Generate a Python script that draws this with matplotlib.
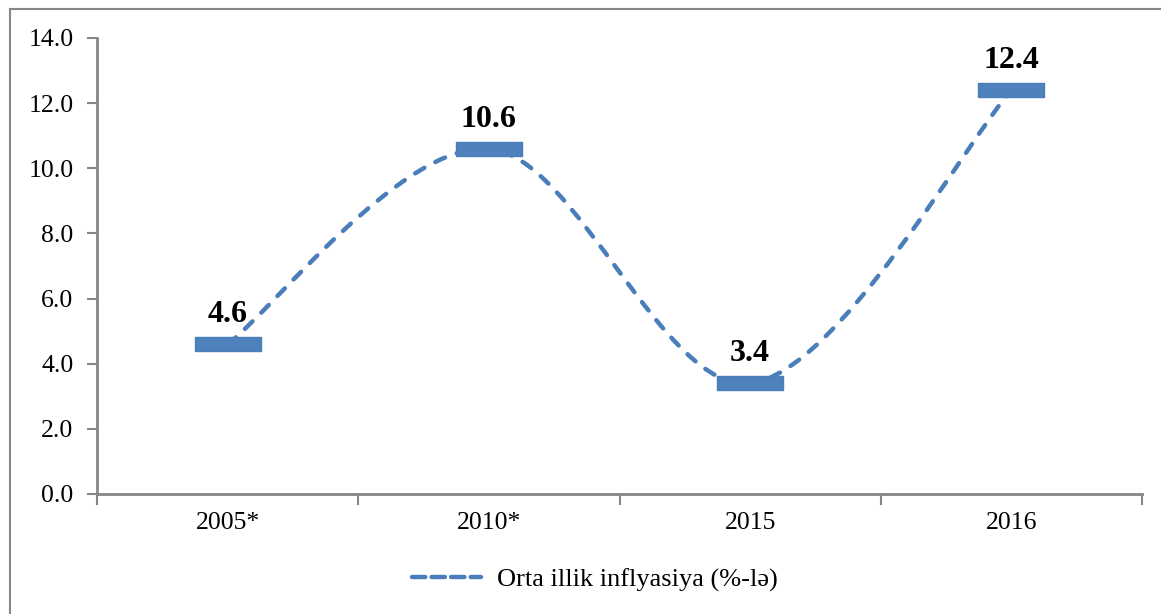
import matplotlib
matplotlib.use("Agg")
import matplotlib.pyplot as plt
from matplotlib.path import Path
from matplotlib.patches import PathPatch, Rectangle
from matplotlib.lines import Line2D

# chart data
years = ["2005*", "2010*", "2015", "2016"]
inflation = [4.6, 10.6, 3.4, 12.4]
series_name = "Orta illik inflyasiya (%-lə)"

plt.rcParams['font.family'] = ['Liberation Serif', 'DejaVu Serif']
blue = '#4A7EBB'
grey = '#868686'

fig = plt.figure(figsize=(11.61, 6.14), dpi=100)
ax = fig.add_axes([97 / 1161, 120 / 614, 1045 / 1161, 456 / 614])

# smoothed line (Catmull-Rom style bezier, like Excel's smoothing)
xs = list(range(len(inflation)))
pts = list(zip(xs, inflation))
verts = [pts[0]]
codes = [Path.MOVETO]
for i in range(len(pts) - 1):
    p0 = pts[max(i - 1, 0)]
    p1 = pts[i]
    p2 = pts[i + 1]
    p3 = pts[min(i + 2, len(pts) - 1)]
    c1 = (p1[0] + (p2[0] - p0[0]) / 6, p1[1] + (p2[1] - p0[1]) / 6)
    c2 = (p2[0] - (p3[0] - p1[0]) / 6, p2[1] - (p3[1] - p1[1]) / 6)
    verts += [c1, c2, p2]
    codes += [Path.CURVE4] * 3
curve = PathPatch(Path(verts, codes), facecolor='none', edgecolor=blue,
                  linewidth=3.2, linestyle=(0, (2.4, 2.8)), capstyle='round',
                  zorder=2)
ax.add_patch(curve)

# wide flat markers
rect = [(-1, -0.2), (1, -0.2), (1, 0.2), (-1, 0.2), (-1, -0.2)]
ax.plot(xs, inflation, linestyle='none', marker=rect, markersize=47,
        markerfacecolor='#4F81BD', markeredgecolor=blue, markeredgewidth=1,
        zorder=3)

for x, v in zip(xs, inflation):
    ax.annotate(f"{v:.1f}", (x, v), xytext=(0, 16), textcoords='offset points',
                ha='center', va='baseline', fontsize=23, fontweight='bold')

ax.set_xlim(-0.5, len(years) - 0.5)
ax.set_ylim(0, 14)
ax.set_yticks([0, 2, 4, 6, 8, 10, 12, 14])
ax.set_yticklabels([f"{t:.1f}" for t in ax.get_yticks()])

ax.set_xticks([i - 0.5 for i in range(len(years) + 1)])
ax.set_xticklabels([])
ax.set_xticks(xs, minor=True)
ax.set_xticklabels(years, minor=True)
ax.tick_params(axis='x', which='major', direction='out', length=8, width=1.5,
               color=grey)
ax.tick_params(axis='x', which='minor', length=0, pad=13, labelsize=18.5)
ax.tick_params(axis='y', direction='out', length=7, width=1.5, color=grey,
               pad=10, labelsize=18.5)

for s in ['top', 'right']:
    ax.spines[s].set_visible(False)
for s in ['left', 'bottom']:
    ax.spines[s].set_color(grey)
    ax.spines[s].set_linewidth(2)

# outer chart border
fig.patches.append(Rectangle((10 / 1161, -0.1), 1.2, 1 - 9 / 614 + 0.1,
                             transform=fig.transFigure, fill=False,
                             edgecolor=grey, linewidth=1.5))

handle = Line2D([], [], color=blue, linewidth=3.2, linestyle=(0, (3.0, 1.4)),
                dash_capstyle='round')
fig.legend([handle], [series_name], loc='center',
           bbox_to_anchor=(595 / 1161, 1 - 580 / 614), frameon=False,
           fontsize=19, handlelength=2.6, handletextpad=0.6)

fig.savefig("out.png", dpi=100)
